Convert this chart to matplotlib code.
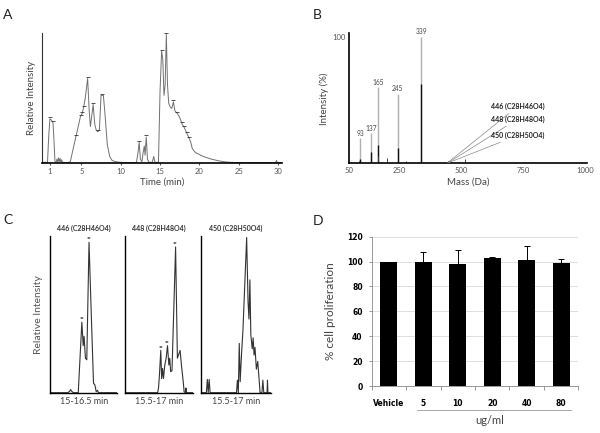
import numpy as np
import matplotlib
matplotlib.use('Agg')
import matplotlib.pyplot as plt
from matplotlib.transforms import blended_transform_factory

plt.rcParams['font.family'] = ['Lato', 'DejaVu Sans']

# ---- Panel A: total ion chromatogram ----
time_a = [0, 0.7, 0.85, 1.0, 1.2, 1.4, 1.5, 1.65, 1.8, 1.9, 2.0, 2.1, 2.2, 2.3, 2.4, 2.5, 2.6,
          3.3, 3.6, 4.0, 4.3, 4.6, 4.9, 5.1, 5.3, 5.5, 5.8, 6.0, 6.15, 6.3, 6.5, 6.7, 6.9, 7.1,
          7.3, 7.5, 7.8, 8.0, 8.3, 8.6, 8.9, 9.3, 10, 11, 12.0, 12.2, 12.35, 12.5, 12.7, 12.85,
          13.0, 13.1, 13.25, 13.4, 13.6, 14.0, 14.2, 14.35, 14.8, 15.0, 15.2, 15.35, 15.5,
          15.65, 15.8, 15.95, 16.1, 16.3, 16.5, 16.7, 16.9, 17.2, 17.5, 17.8, 18.1, 18.4, 18.7,
          18.9, 19.1, 19.5, 20.0, 20.5, 21.0, 21.5, 22.0, 22.5, 23.0, 23.5, 24.0, 25.0, 28.0,
          29.7, 29.8, 29.9, 30.4]
inten_a = [0.5, 0.5, 20, 34, 33, 31, 20, 1, 0.5, 3, 0.5, 4, 1, 3.5, 0.5, 2.5, 0.5,
           0.3, 1, 12, 20, 28, 36, 38, 43, 50, 65, 40, 28, 35, 45, 30, 25, 24,
           26, 52, 52, 38, 14, 5, 2, 1, 0.5, 0.3, 0.3, 8, 16, 3, 1, 8,
           13, 6, 20, 3, 0.5, 0.5, 5, 0.5, 0.5, 55, 86, 80, 52,
           60, 99, 60, 46, 43, 42, 47, 40, 38, 35, 30, 27, 23, 19,
           16, 11, 8, 6.5, 5, 4, 3, 2.3, 1.6, 1.1, 0.7, 0.5, 0.3, 0.3,
           0.3, 2, 0.3, 0.3]
marked_t = [1.0, 1.4, 4.3, 4.9, 5.1, 5.3, 5.8, 6.5, 7.1, 7.6, 12.35, 13.25, 15.2, 15.8,
            16.7, 17.2, 17.8, 18.1, 18.4, 18.7]
marked_i = [34, 31, 20, 36, 38, 43, 65, 45, 24, 52, 16, 20, 86, 99,
            47, 38, 30, 27, 23, 19]
ticks_a = [1, 5, 10, 15, 20, 25, 30]

# ---- Panel B: mass spectrum ----
main_mass = [93, 137, 165, 245, 339]
main_gray = [20, 24, 60, 55, 100]
main_black = [3, 9, 14.5, 12, 63]
minor_mass = [90, 167, 203, 277, 446, 448, 450, 514]
minor_int = [1.5, 5.8, 4, 2, 1.5, 2, 1.5, 3]
ion_labels = ['446 (C28H46O4)', '448 (C28H48O4)', '450 (C28H50O4)']
ion_mass = [446, 448, 450]
ion_text_y = [45, 35, 22]
ticks_b = [50, 250, 500, 750, 1000]

# ---- Panel C: extracted ion chromatograms ----
c_titles = ['446 (C28H46O4)', '448 (C28H48O4)', '450 (C28H50O4)']
c_ranges = ['15-16.5 min', '15.5-17 min', '15.5-17 min']
c_xlim = [(15.0, 16.5), (15.5, 17.0), (15.5, 17.0)]
c1_t = [15.0, 15.40, 15.44, 15.46, 15.48, 15.52, 15.63, 15.71, 15.74, 15.76, 15.79, 15.82,
        15.87, 15.92, 15.97, 16.0, 16.03, 16.06, 16.08, 16.10, 16.5]
c1_i = [0, 0, 1, 2, 1, 0, 0, 45, 30, 36, 22, 21,
        96, 50, 6, 5, 0.6, 1.5, 0, 0, 0]
c2_t = [15.5, 16.22, 16.24, 16.26, 16.29, 16.31, 16.33, 16.35, 16.38, 16.41, 16.44, 16.47,
        16.49, 16.51, 16.54, 16.62, 16.66, 16.72, 16.75, 16.79, 16.81, 16.84, 16.85, 16.86,
        17.0]
c2_i = [0, 0, 3, 11, 27, 9, 15.5, 9, 17.7, 22, 30, 17.7,
        22, 13.4, 14, 93, 22, 27, 17.7, 7, 0.6, 0, 3, 0, 0]
c3_t = [15.5, 15.61, 15.63, 15.65, 15.67, 15.69, 16.26, 16.28, 16.30, 16.32, 16.34, 16.37,
        16.40, 16.48, 16.51, 16.53, 16.55, 16.57, 16.60, 16.62, 16.64, 16.66, 16.69, 16.72,
        16.75, 16.77, 16.81, 16.83, 16.85, 16.92, 16.93, 16.94, 17.0]
c3_i = [0, 0, 8.5, 0, 8.5, 0, 0, 8, 0, 31.5, 7, 25,
        40, 99, 58, 47, 72, 37, 28, 35, 24, 29, 15, 20, 8, 0, 0, 8, 0, 0, 8, 0, 0]
c_marks = [[(15.71, 45), (15.87, 96)], [(16.29, 27), (16.44, 30), (16.62, 93)], []]

# ---- Panel D: proliferation ----
groups = ['Vehicle', '5', '10', '20', '40', '80']
prolif = [100, 99.5, 97.7, 102.5, 101.2, 98.5]
prolif_err = [0, 8.6, 12, 1.6, 11.2, 3.2]

fig = plt.figure(figsize=(6, 4.33), dpi=100)

tick_grey = '#555555'

# Panel A
axA = fig.add_axes([0.07, 0.6236, 0.40, 0.3002])
axA.plot(time_a, inten_a, color='#707070', lw=0.7)
axA.plot(marked_t, np.array(marked_i) + 1.2, ls='none', marker='_', ms=2.2, mew=0.6, color='#333333')
axA.set_xlim(0, 30.5)
axA.set_ylim(0, 100)
axA.set_xticks(ticks_a)
axA.set_yticks([])
axA.tick_params(axis='x', labelsize=5.5, colors=tick_grey, length=1.5, pad=2)
for s in ['top', 'right']:
    axA.spines[s].set_visible(False)
axA.spines['left'].set_color('#333333')
axA.spines['left'].set_linewidth(0.8)
axA.spines['bottom'].set_linewidth(1.2)
axA.set_xlabel('Time (min)', fontsize=7, color='#444444', labelpad=2)
axA.set_ylabel('Relative Intensity', fontsize=7, color='#444444', labelpad=4)

# Panel B
axB = fig.add_axes([0.5822, 0.6229, 0.3967, 0.3002])
axB.vlines(main_mass, 0, main_gray, color='#b0b0b0', lw=1.0)
axB.vlines(main_mass, 0, main_black, color='#111111', lw=1.0)
axB.vlines(minor_mass, 0, minor_int, color='#444444', lw=0.7)
for m, h in zip(main_mass, main_gray):
    axB.text(m, h + 1, str(m), fontsize=4.8, ha='center', va='bottom', color='#444444')
for lab, m, ty in zip(ion_labels, ion_mass, ion_text_y):
    axB.annotate(lab, xy=(m, 0.5), xytext=(620, ty), fontsize=5, fontweight='bold',
                 color='#222222', va='center', ha='left',
                 arrowprops=dict(arrowstyle='-', color='#888888', lw=0.5, shrinkA=1, shrinkB=0))
axB.set_xlim(50, 1008)
axB.set_ylim(0, 102.7)
axB.set_xticks(ticks_b)
axB.set_yticks([100])
axB.tick_params(labelsize=5.5, colors=tick_grey, length=0, pad=3)
for s in ['top', 'right']:
    axB.spines[s].set_visible(False)
axB.spines['left'].set_linewidth(1.2)
axB.spines['bottom'].set_linewidth(1.2)
axB.set_xlabel('Mass (Da)', fontsize=7, color='#444444', labelpad=2)
axB.set_ylabel('Intensity (%)', fontsize=7, color='#444444', labelpad=2)

# Panel C
c_lefts = [0.0833, 0.2088, 0.3355]
c_widths = [0.1122, 0.1123, 0.1157]
c_traces = [(c1_t, c1_i), (c2_t, c2_i), (c3_t, c3_i)]
for k in range(3):
    ax = fig.add_axes([c_lefts[k], 0.0931, c_widths[k], 0.3619])
    ax.plot(c_traces[k][0], c_traces[k][1], color='#333333', lw=0.8)
    for (mt, mi) in c_marks[k]:
        ax.text(mt, mi + 0.5, '**', fontsize=4, ha='center', va='bottom', color='#111111',
                fontweight='bold')
    ax.set_xlim(*c_xlim[k])
    ax.set_ylim(0, 100)
    ax.set_xticks([])
    ax.set_yticks([])
    for s in ['top', 'right']:
        ax.spines[s].set_visible(False)
    ax.spines['left'].set_linewidth(1.0)
    ax.spines['bottom'].set_linewidth(1.0)
    ax.set_title(c_titles[k], fontsize=5, fontweight='bold', color='#333333', pad=4)
    ax.set_xlabel(c_ranges[k], fontsize=6.5, color='#444444', labelpad=3)
    if k == 0:
        ax.set_ylabel('Relative Intensity', fontsize=7.5, color='#555555', labelpad=5)

# Panel D
axD = fig.add_axes([0.6195, 0.1085, 0.3443, 0.3448])
x = np.arange(len(groups))
axD.bar(x, prolif, width=0.49, color='black', zorder=3)
axD.errorbar(x[1:], prolif[1:], yerr=[np.zeros(len(x) - 1), prolif_err[1:]], fmt='none',
             ecolor='black', elinewidth=0.7, capsize=2, capthick=0.7, zorder=4)
axD.set_xlim(-0.5, 5.5)
axD.set_ylim(0, 120)
axD.set_yticks(range(0, 121, 20))
axD.yaxis.grid(True, color='#d9d9d9', lw=0.6, zorder=0)
axD.set_axisbelow(True)
axD.set_xticks(np.arange(-0.5, 6, 1))
axD.set_xticklabels([])
axD.set_xticks(x, minor=True)
axD.set_xticklabels(groups, minor=True, fontsize=5.5, fontweight='bold', family='DejaVu Sans')
axD.tick_params(axis='x', which='minor', length=0, pad=9)
axD.tick_params(axis='x', which='major', length=3, color='#888888', width=0.6)
axD.tick_params(axis='y', labelsize=5.5, length=2.5, color='#888888', width=0.6, pad=4)
for lab in axD.get_yticklabels():
    lab.set_fontweight('bold')
    lab.set_family('DejaVu Sans')
for s in ['top', 'right']:
    axD.spines[s].set_visible(False)
axD.spines['left'].set_color('#888888')
axD.spines['left'].set_linewidth(0.6)
axD.spines['bottom'].set_color('#888888')
axD.spines['bottom'].set_linewidth(0.6)
axD.set_ylabel('% cell proliferation', fontsize=8.5, color='#444444', labelpad=8)
tr = blended_transform_factory(axD.transData, axD.transAxes)
axD.plot([0.83, 5.3], [-0.16, -0.16], transform=tr, color='#999999', lw=0.6, clip_on=False)
axD.text(2.94, -0.23, 'ug/ml', transform=tr, fontsize=8, color='#444444', ha='center', va='center')

# Panel letters
for lab, px, py in [('A', 3, 15), ('B', 313, 15), ('C', 3, 220), ('D', 313, 221)]:
    fig.text(px / 600, 1 - py / 433, lab, fontsize=10, color='#222222', ha='left', va='center')

fig.savefig('out.png', dpi=100)
